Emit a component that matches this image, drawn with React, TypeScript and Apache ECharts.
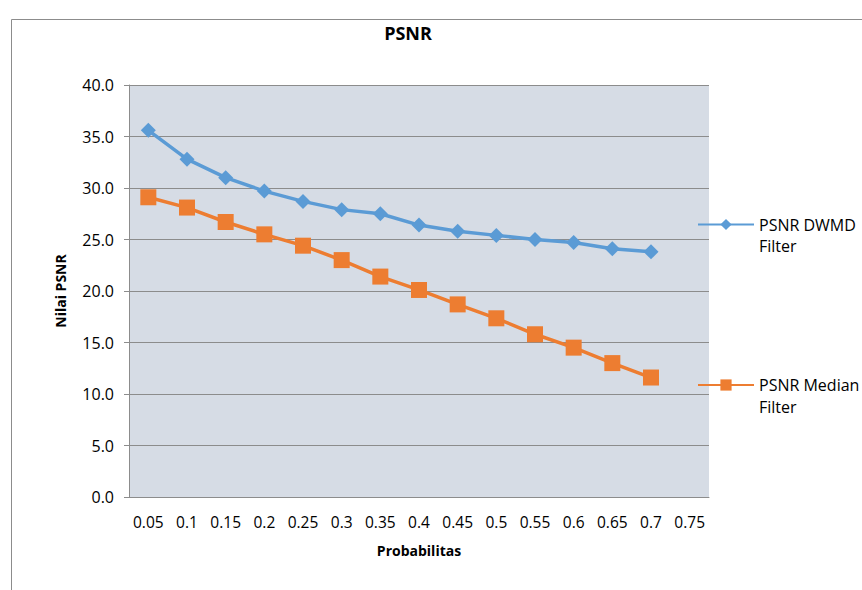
import React, { useEffect, useRef } from "react";
import * as echarts from "echarts";

const categories = ["0.05", "0.1", "0.15", "0.2", "0.25", "0.3", "0.35", "0.4", "0.45", "0.5", "0.55", "0.6", "0.65", "0.7", "0.75"];
const dwmdValues = [35.6, 32.8, 31.0, 29.7, 28.7, 27.9, 27.5, 26.4, 25.8, 25.4, 25.0, 24.7, 24.1, 23.8];
const medianValues = [29.1, 28.1, 26.7, 25.5, 24.4, 23.0, 21.4, 20.1, 18.7, 17.35, 15.8, 14.5, 13.0, 11.6];
const yTicks = { min: 0, max: 40, interval: 5 };

const FONT = "'Open Sans', 'Noto Sans', sans-serif";

export default function App() {
  const ref = useRef<HTMLDivElement>(null);
  useEffect(() => {
    if (!ref.current) return;
    const chart = echarts.init(ref.current, undefined, { renderer: "svg" });
    chart.setOption({
      animation: false,
      backgroundColor: "#ffffff",
      title: {
        text: "PSNR",
        left: 403,
        top: 19,
        textAlign: "center",
        textStyle: { fontFamily: FONT, fontWeight: "bold", fontSize: 18, color: "#000" },
      },
      graphic: [
        {
          type: "rect",
          shape: { x: 11.5, y: 19.5, width: 900, height: 700 },
          style: { fill: "none", stroke: "#8c8c8c", lineWidth: 1 },
          silent: true,
        },
      ],
      grid: { left: 129, top: 85, width: 580, height: 412, backgroundColor: "#D6DCE5", show: true, borderWidth: 0 },
      legend: [
        {
          orient: "vertical",
          left: 692,
          top: 188,
          itemWidth: 56,
          itemHeight: 14,
          data: ["PSNR DWMD Filter"],
          formatter: () => " \nPSNR DWMD\nFilter",
          textStyle: { fontFamily: FONT, fontSize: 16, color: "#000", lineHeight: 21 },
        },
        {
          orient: "vertical",
          left: 692,
          top: 347,
          itemWidth: 56,
          itemHeight: 14,
          data: ["PSNR Median Filter"],
          formatter: () => " \nPSNR Median\nFilter",
          textStyle: { fontFamily: FONT, fontSize: 16, color: "#000", lineHeight: 22 },
        },
      ],
      xAxis: {
        type: "category",
        data: categories,
        boundaryGap: true,
        name: "Probabilitas",
        nameLocation: "middle",
        nameGap: 46,
        nameTextStyle: { fontFamily: FONT, fontWeight: "bold", fontSize: 14, color: "#000" },
        axisLine: { lineStyle: { color: "#8c8c8c", width: 1 } },
        axisTick: { show: false },
        axisLabel: { fontFamily: FONT, fontSize: 15.5, color: "#000", margin: 17, interval: 0 },
        splitLine: { show: false },
      },
      yAxis: {
        type: "value",
        min: yTicks.min,
        max: yTicks.max,
        interval: yTicks.interval,
        name: "Nilai PSNR",
        nameLocation: "middle",
        nameGap: 62,
        nameRotate: 90,
        nameTextStyle: { fontFamily: FONT, fontWeight: "bold", fontSize: 14, color: "#000" },
        axisLine: { show: true, lineStyle: { color: "#8c8c8c", width: 1 } },
        axisTick: { show: true, length: 5, lineStyle: { color: "#8c8c8c" } },
        axisLabel: { fontFamily: FONT, fontSize: 16, color: "#000", margin: 15, formatter: (v: number) => v.toFixed(1) },
        splitLine: { lineStyle: { color: "#8c8c8c", width: 1 } },
      },
      series: [
        {
          name: "PSNR DWMD Filter",
          type: "line",
          data: dwmdValues,
          symbol: "diamond",
          symbolSize: 15,
          lineStyle: { color: "#5B9BD5", width: 3.5 },
          itemStyle: { color: "#5B9BD5" },
        },
        {
          name: "PSNR Median Filter",
          type: "line",
          data: medianValues,
          symbol: "rect",
          symbolSize: 16,
          lineStyle: { color: "#ED7D31", width: 3.5 },
          itemStyle: { color: "#ED7D31" },
        },
      ],
    });
    return () => chart.dispose();
  }, []);
  return <div ref={ref} style={{ position: "fixed", left: 0, top: 0, width: 862, height: 590 }} />;
}
